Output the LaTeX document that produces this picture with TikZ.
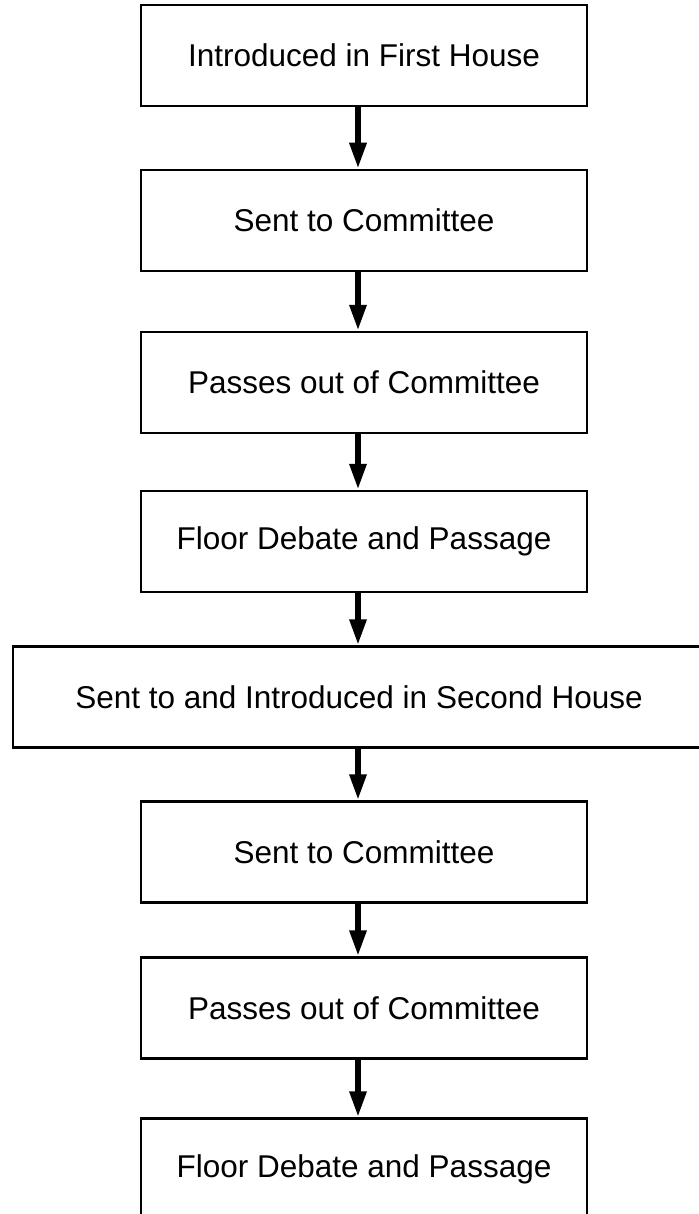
\documentclass[tikz,border=0pt]{standalone}
\usepackage{fontspec}
\setmainfont{Liberation Sans}
\usetikzlibrary{arrows.meta}
\begin{document}
\begin{tikzpicture}[x=1pt,y=-1pt,
  box/.style={draw, line width=2.5pt, minimum width=446pt, minimum height=101pt,
    inner sep=0pt, font=\fontsize{31.5}{36}\selectfont},
  widebox/.style={box, minimum width=692pt},
  arr/.style={line width=6pt, -{Triangle[width=16pt,length=26pt]}}]
\useasboundingbox (0,0) rectangle (698,1214);
\fill[white] (0,0) rectangle (698,1214);
\node[box] (b1) at (364,55.5) {Introduced in First House};
\node[box] (b2) at (364,220.5) {Sent to Committee};
\node[box] (b3) at (364,382.5) {Passes out of Committee};
\node[box] (b4) at (364,541.5) {Floor Debate and Passage};
\node[widebox] (b5) at (359,697) {Sent to and Introduced in Second House};
\node[box] (b6) at (364,852) {Sent to Committee};
\node[box] (b7) at (364,1008) {Passes out of Committee};
\node[box] (b8) at (364,1169) {Floor Debate and Passage};
\coordinate (ax) at (358,0);
\draw[arr] (b1.south -| ax) -- (b2.north -| ax);
\draw[arr] (b2.south -| ax) -- (b3.north -| ax);
\draw[arr] (b3.south -| ax) -- (b4.north -| ax);
\draw[arr] (b4.south -| ax) -- (b5.north -| ax);
\draw[arr] (b5.south -| ax) -- (b6.north -| ax);
\draw[arr] (b6.south -| ax) -- (b7.north -| ax);
\draw[arr] (b7.south -| ax) -- (b8.north -| ax);
\end{tikzpicture}
\end{document}
